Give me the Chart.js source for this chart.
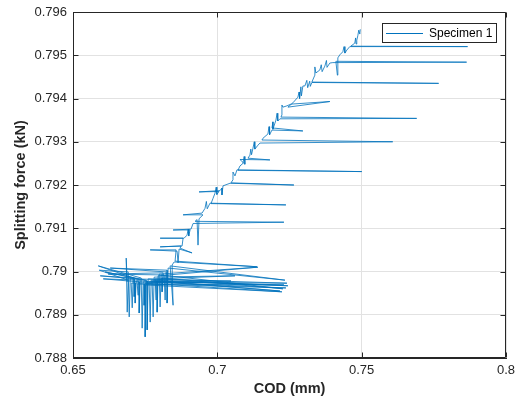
<!DOCTYPE html>
<html><head><meta charset="utf-8">
<script src="https://cdn.jsdelivr.net/npm/chart.js@4.4.0/dist/chart.umd.min.js"></script>
<style>html,body{margin:0;padding:0;background:#fff}#wrap{width:515px;height:400px}</style>
</head><body><div id="wrap"><canvas id="c" width="515" height="400"></canvas></div>
<script>
const seriesLabel = 'Specimen 1';
const xTitle = 'COD (mm)';
const yTitle = 'Splitting force (kN)';

// Early (noisy) part of the record
const codCluster = [0.66878,0.66843,0.66878,0.66913,0.65909,0.66913,0.66947,0.66982,0.70473,0.67016,
  0.67051,0.67085,0.65944,0.67120,0.67120,0.67154,0.67154,0.67189,0.72307,0.67224,
  0.67258,0.67258,0.66048,0.67293,0.67293,0.67327,0.65875,0.67362,0.67396,0.67431,
  0.72376,0.67465,0.67465,0.67500,0.72238,0.67500,0.67500,0.67535,0.66117,0.67569,
  0.67569,0.67604,0.72411,0.67638,0.67673,0.67707,0.72169,0.67742,0.67776,0.67811,
  0.70611,0.67846,0.67880,0.67880,0.72445,0.67915,0.67915,0.67949,0.71407,0.67984,
  0.68018,0.68053,0.72272,0.68087,0.68087,0.68122,0.66221,0.68156,0.68191,0.68226,
  0.66290,0.68260,0.68260,0.68295,0.72342,0.68364,0.68467,0.68433];
const forceCluster = [0.78976,0.79031,0.78906,0.78980,0.79003,0.78999,0.78895,0.78983,0.78978,0.78973,
  0.78916,0.78985,0.78990,0.78983,0.78942,0.78973,0.78927,0.78978,0.78969,0.78971,
  0.78945,0.78980,0.78983,0.78976,0.78904,0.78980,0.79013,0.78985,0.78869,0.78976,
  0.78962,0.78971,0.78922,0.78973,0.78953,0.78969,0.78849,0.78980,0.78999,0.78978,
  0.78865,0.78983,0.78973,0.78976,0.78883,0.78980,0.78955,0.78978,0.78895,0.78987,
  0.78990,0.78983,0.78934,0.78980,0.78967,0.78978,0.78906,0.78990,0.79010,0.78994,
  0.78918,0.78992,0.78960,0.78985,0.78953,0.78997,0.78994,0.78992,0.78934,0.78999,
  0.79008,0.79003,0.78927,0.79008,0.78980,0.79013,0.78922,0.79015];

// Rising part of the record, lower half
const codClimbLow = [0.68502,0.71372,0.68537,0.68571,0.67673,0.68606,0.68640,0.68675,0.69124,0.68710,
  0.68744,0.68018,0.68779,0.68813,0.68018,0.68848,0.68951,0.68990,0.69010,0.69055,
  0.68467,0.69089,0.69159,0.72307,0.69228,0.69297,0.69331,0.69366,0.69504,0.68813,
  0.69470,0.69573,0.69620,0.69650,0.69746,0.72376,0.69781,0.69850,0.69919,0.69960,
  0.69985,0.70057,0.69366,0.70092,0.70161,0.70161,0.70196,0.70438,0.72653,0.70473,
  0.70542,0.70542,0.70611,0.70680,0.75004,0.70715,0.70784,0.70888,0.70930,0.70955,
  0.70784,0.71822,0.71061,0.71130,0.71160,0.71185,0.71234,0.71280,0.71300,0.71407,
  0.71476,0.76076,0.71546,0.71580];
const forceClimbLow = [0.79022,0.79011,0.79024,0.79050,0.79050,0.79047,0.79020,0.79052,0.79043,0.79054,
  0.79059,0.79057,0.79059,0.79077,0.79077,0.79077,0.79084,0.79098,0.79082,0.79096,
  0.79096,0.79098,0.79111,0.79114,0.79116,0.79120,0.79061,0.79122,0.79131,0.79131,
  0.79135,0.79146,0.79162,0.79145,0.79158,0.79154,0.79157,0.79169,0.79181,0.79195,
  0.79178,0.79185,0.79184,0.79187,0.79193,0.79177,0.79198,0.79204,0.79200,0.79205,
  0.79212,0.79230,0.79221,0.79235,0.79231,0.79234,0.79244,0.79250,0.79266,0.79248,
  0.79259,0.79258,0.79262,0.79269,0.79283,0.79270,0.79285,0.79300,0.79283,0.79292,
  0.79297,0.79300,0.79304,0.79308];

// Rising part of the record, upper half
const codClimbHigh = [0.71753,0.71790,0.71810,0.71892,0.72964,0.71892,0.71926,0.71926,0.72030,0.72070,
  0.72095,0.72169,0.76906,0.72203,0.72238,0.72238,0.72272,0.72411,0.72549,0.73898,
  0.72445,0.72618,0.72791,0.72830,0.72850,0.72895,0.72912,0.72964,0.73033,0.73100,
  0.73130,0.73200,0.73220,0.73275,0.77667,0.73275,0.73379,0.73379,0.73414,0.73552,
  0.73600,0.73630,0.73725,0.73780,0.73800,0.73898,0.74002,0.78635,0.74106,0.74158,
  0.74175,0.74243,0.74347,0.74390,0.74420,0.74486,0.74589,0.78669,0.74624,0.74762,
  0.74790,0.74805,0.74831,0.74866,0.74900,0.74935,0.74952];
const forceClimbHigh = [0.79318,0.79335,0.79316,0.79327,0.79325,0.79332,0.79346,0.79329,0.79350,0.79366,
  0.79348,0.79353,0.79354,0.79357,0.79362,0.79385,0.79380,0.79383,0.79387,0.79393,
  0.79380,0.79390,0.79403,0.79415,0.79400,0.79427,0.79406,0.79429,0.79429,0.79442,
  0.79425,0.79440,0.79428,0.79437,0.79435,0.79438,0.79454,0.79473,0.79459,0.79466,
  0.79478,0.79462,0.79475,0.79488,0.79472,0.79482,0.79483,0.79484,0.79486,0.79454,
  0.79494,0.79501,0.79508,0.79520,0.79505,0.79512,0.79520,0.79520,0.79521,0.79528,
  0.79540,0.79526,0.79535,0.79545,0.79558,0.79549,0.79560];

const xTickValues = [0.65, 0.7, 0.75, 0.8];
const xTickLabels = ['0.65', '0.7', '0.75', '0.8'];
const yTickValues = [0.788, 0.789, 0.79, 0.791, 0.792, 0.793, 0.794, 0.795, 0.796];
const yTickLabels = ['0.788', '0.789', '0.79', '0.791', '0.792', '0.793', '0.794', '0.795', '0.796'];

const codAll = codCluster.concat(codClimbLow, codClimbHigh);
const forceAll = forceCluster.concat(forceClimbLow, forceClimbHigh);
const points = codAll.map((x, i) => ({ x: x, y: forceAll[i] }));

const FONT = "'Liberation Sans', Arial, Helvetica, sans-serif";
const AXIS = '#262626';
const LINE = '#0072BD';

const boxPlugin = {
  id: 'matlabBox',
  afterDraw(chart) {
    const ctx = chart.ctx, ca = chart.chartArea;
    const xs = chart.scales.x, ys = chart.scales.y;
    ctx.save();
    ctx.strokeStyle = AXIS; ctx.lineWidth = 1;
    const L = Math.round(ca.left) + 0.5, R = Math.round(ca.right) - 0.5;
    const T = Math.round(ca.top) + 0.5, B = Math.round(ca.bottom) - 0.5;
    ctx.beginPath();
    ctx.rect(L, T, R - L, B - T);
    const tl = 5;
    xTickValues.forEach(v => {
      const px = Math.round(xs.getPixelForValue(v)) + 0.5;
      ctx.moveTo(px, B); ctx.lineTo(px, B - tl);
      ctx.moveTo(px, T); ctx.lineTo(px, T + tl);
    });
    yTickValues.forEach(v => {
      const py = Math.round(ys.getPixelForValue(v)) + 0.5;
      ctx.moveTo(L, py); ctx.lineTo(L + tl, py);
      ctx.moveTo(R, py); ctx.lineTo(R - tl, py);
    });
    ctx.stroke();

    // legend box
    ctx.font = '12px ' + FONT;
    const label = chart.data.datasets[0].label;
    const tw = ctx.measureText(label).width;
    const lineLen = 37, padL = 3.5, gap = 6, padR = 4;
    const bw = Math.round(padL + lineLen + gap + tw + padR);
    const bh = 19;
    const bx = Math.round(ca.right - 10 - bw) + 0.5;
    const by = Math.round(ca.top + 11) + 0.5;
    ctx.fillStyle = '#fff';
    ctx.fillRect(bx, by, bw, bh);
    ctx.strokeStyle = AXIS;
    ctx.strokeRect(bx, by, bw, bh);
    const cy = by + bh / 2;
    ctx.strokeStyle = LINE; ctx.lineWidth = 1;
    ctx.beginPath();
    ctx.moveTo(bx + padL, Math.round(cy) + 0.5);
    ctx.lineTo(bx + padL + lineLen, Math.round(cy) + 0.5);
    ctx.stroke();
    ctx.fillStyle = '#000';
    ctx.textBaseline = 'middle';
    ctx.textAlign = 'left';
    ctx.fillText(label, bx + padL + lineLen + gap, cy + 0.5);
    ctx.restore();
  }
};

new Chart(document.getElementById('c'), {
  type: 'scatter',
  data: {
    datasets: [{
      label: seriesLabel,
      data: points,
      showLine: true,
      pointRadius: 0,
      pointHoverRadius: 0,
      borderColor: LINE,
      borderWidth: 0.8,
      tension: 0,
      fill: false
    }]
  },
  options: {
    responsive: false,
    animation: false,
    devicePixelRatio: 1,
    layout: { padding: { top: 12, right: 9, left: 0, bottom: 0 } },
    plugins: { legend: { display: false }, tooltip: { enabled: false } },
    scales: {
      x: {
        type: 'linear',
        min: 0.65, max: 0.8,
        afterBuildTicks: s => { s.ticks = xTickValues.map(v => ({ value: v })); },
        afterFit: s => { s.height = 42; s.paddingLeft = 0; s.paddingRight = 0; },
        ticks: {
          autoSkip: false, maxRotation: 0, padding: 5,
          color: AXIS, font: { family: FONT, size: 13 },
          callback: (v, i) => xTickLabels[i]
        },
        grid: { color: '#e2e2e2', lineWidth: 1, drawTicks: false },
        border: { display: true, color: AXIS, width: 1 },
        title: {
          display: true, text: xTitle, color: AXIS,
          font: { family: FONT, size: 14.5, weight: 'bold' },
          padding: { top: 0, bottom: 2 }
        }
      },
      y: {
        type: 'linear',
        min: 0.788, max: 0.796,
        afterBuildTicks: s => { s.ticks = yTickValues.map(v => ({ value: v })); },
        afterFit: s => { s.width = 73; s.paddingTop = 0; s.paddingBottom = 0; },
        ticks: {
          autoSkip: false, padding: 6,
          color: AXIS, font: { family: FONT, size: 13 },
          callback: (v, i) => yTickLabels[i]
        },
        grid: { color: '#e2e2e2', lineWidth: 1, drawTicks: false },
        border: { display: true, color: AXIS, width: 1 },
        title: {
          display: true, text: yTitle, color: AXIS,
          font: { family: FONT, size: 14.5, weight: 'bold' },
          padding: { top: 12, bottom: 0 }
        }
      }
    }
  },
  plugins: [boxPlugin]
});
</script>
</body></html>
